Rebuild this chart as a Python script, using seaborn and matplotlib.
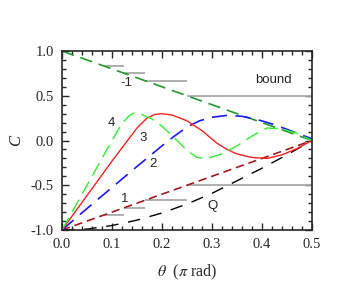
import numpy as np
import pandas as pd
import matplotlib
matplotlib.use('Agg')
import matplotlib.pyplot as plt
import seaborn as sns

# valores
theta_line = [0.0, 0.5]
bound_c = [1.0, 0.0]
c1 = [-1.0, 0.0]

theta_q = [0.0, 0.05, 0.1, 0.15, 0.2, 0.25, 0.3, 0.35, 0.4, 0.45, 0.5]
cq = [-1.0, -0.99, -0.95, -0.89, -0.81, -0.71, -0.59, -0.45, -0.31, -0.16, 0.0]

theta_2 = [0.0, 0.05, 0.1, 0.15, 0.2, 0.225, 0.25, 0.275, 0.3, 0.33, 0.36, 0.39, 0.42, 0.45, 0.475, 0.5]
c2 = [-1.0, -0.76, -0.525, -0.29, -0.06, 0.05, 0.15, 0.22, 0.26, 0.28, 0.27, 0.235, 0.185, 0.125, 0.07, 0.02]

theta_3 = [0.0, 0.05, 0.1, 0.15, 0.17, 0.185, 0.2, 0.22, 0.25, 0.28, 0.31, 0.33, 0.35, 0.38, 0.41, 0.44, 0.47, 0.5]
c3 = [-1.0, -0.615, -0.23, 0.14, 0.25, 0.29, 0.30, 0.285, 0.22, 0.11, -0.03, -0.1, -0.15, -0.19, -0.2, -0.16, -0.09, 0.0]

theta_4 = [0.0, 0.05, 0.1, 0.12, 0.135, 0.145, 0.16, 0.18, 0.2, 0.23, 0.25, 0.27, 0.29, 0.32, 0.35, 0.38, 0.41, 0.44, 0.47, 0.5]
c4 = [-1.0, -0.5, 0.0, 0.19, 0.28, 0.31, 0.29, 0.24, 0.16, 0.0, -0.11, -0.19, -0.2, -0.15, -0.06, 0.05, 0.14, 0.13, 0.08, 0.0]

# escalones grises
step_lo = [1/12, 1/8, 1/6, 1/4]
step_hi = [1/8, 1/6, 1/4, 1/2]
step_top = [5/6, 3/4, 2/3, 1/2]
step_bot = [-5/6, -3/4, -2/3, -1/2]

sns.set_style('ticks')
plt.rcParams['font.family'] = ['Liberation Serif', 'DejaVu Serif']
plt.rcParams['mathtext.fontset'] = 'stix'
plt.rcParams['axes.unicode_minus'] = False
plt.rcParams['lines.scale_dashes'] = False

fig = plt.figure(figsize=(3.38, 2.81), dpi=100)
ax = fig.add_axes([0.1834, 0.1815, 0.7396, 0.637])

ax.hlines(step_top, step_lo, step_hi, color='#a8a8a8', lw=1.3, zorder=1)
ax.hlines(step_bot, step_lo, step_hi, color='#a8a8a8', lw=1.3, zorder=1)

sns.lineplot(x=theta_line, y=bound_c, ax=ax, color='#22992a', lw=1.2, linestyle=(0, (9, 5)))
sns.lineplot(x=theta_line, y=c1, ax=ax, color='#a01c1c', lw=1.2, linestyle=(0, (6, 3.5)))
sns.lineplot(x=theta_q, y=cq, ax=ax, color='black', lw=1.0, linestyle=(0, (9, 7)))
sns.lineplot(x=theta_2, y=c2, ax=ax, color='#1a1aff', lw=1.2, linestyle=(0, (11, 6)))
sns.lineplot(x=theta_3, y=c3, ax=ax, color='#ff2020', lw=1.0)
sns.lineplot(x=theta_4, y=c4, ax=ax, color='#33ee33', lw=1.0, linestyle=(0, (10, 5)))

lab = dict(fontsize=9.5, family='Liberation Sans', ha='center', va='center')
ax.text(0.128, 0.64, '-1', **lab)
ax.text(0.423, 0.676, 'bound', **lab)
ax.text(0.098, 0.19, '4', **lab)
ax.text(0.162, 0.033, '3', **lab)
ax.text(0.183, -0.26, '2', **lab)
ax.text(0.125, -0.65, '1', **lab)
ax.text(0.302, -0.73, 'Q', **lab)

ax.set_xlim(0, 0.5)
ax.set_ylim(-1, 1)
ax.set_xticks([0.0, 0.1, 0.2, 0.3, 0.4, 0.5])
ax.set_yticks([-1.0, -0.5, 0.0, 0.5, 1.0])
ax.set_xticks(np.arange(0, 0.5001, 0.02), minor=True)
ax.set_yticks(np.arange(-1, 1.0001, 0.1), minor=True)
ax.xaxis.set_major_formatter(matplotlib.ticker.FormatStrFormatter('%.1f'))
ax.yaxis.set_major_formatter(matplotlib.ticker.FormatStrFormatter('%.1f'))
ax.tick_params(which='both', direction='in', top=True, right=True, width=1.0)
ax.tick_params(which='major', length=5, labelsize=10.5, pad=6)
ax.tick_params(which='minor', length=3)
for s in ax.spines.values():
    s.set_linewidth(1.2)

ax.set_xlabel(r'$\theta$  ($\pi$ rad)', fontsize=11.5, labelpad=8)
ax.set_ylabel('C', fontsize=12, style='italic', labelpad=5)

fig.savefig('out.png', dpi=100)
plt.close()
